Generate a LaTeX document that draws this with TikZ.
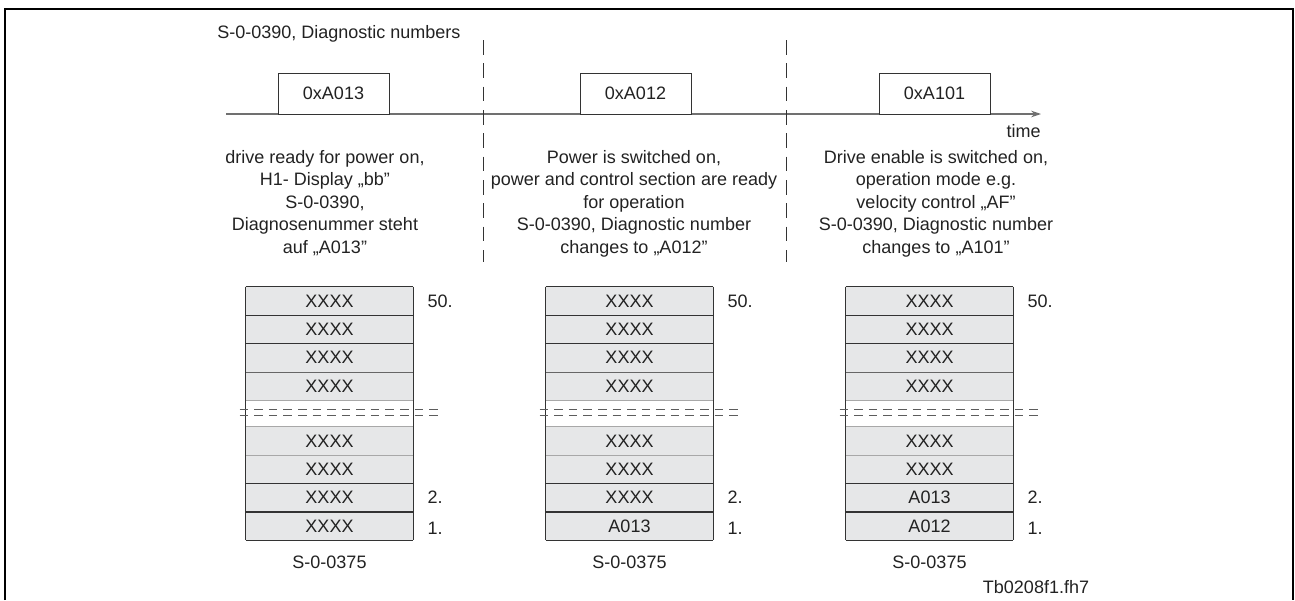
\documentclass[tikz,border=0pt]{standalone}
\usepackage{fontspec}
\setmainfont{Liberation Sans}
\usetikzlibrary{arrows.meta,calc}
\definecolor{cellgray}{HTML}{E6E7E8}
\definecolor{darkline}{HTML}{333333}
\definecolor{lightline}{HTML}{A8A8A8}
\definecolor{axisgray}{HTML}{707070}
\definecolor{textgray}{HTML}{222222}
\begin{document}
\begin{tikzpicture}[x=0.75pt,y=-0.75pt,
  every node/.style={inner sep=0pt,text=textgray,font=\fontsize{13.5}{16.9}\selectfont},
  frame/.style={line width=1.5pt,black},
  codebox/.style={draw=darkline,line width=0.7pt,fill=white,minimum width=83.25pt,minimum height=30.75pt},
  timeaxis/.style={draw=axisgray,line width=1pt,-{Stealth[length=7.5pt,width=5pt]}},
  phase/.style={draw=darkline,line width=0.55pt,dash pattern=on 11pt off 6.5pt},
  cell/.style={fill=cellgray,minimum width=125.25pt,minimum height=21.19pt},
  rowline/.style={draw=darkline,line width=0.8pt},
  softline/.style={draw=lightline,line width=0.75pt},
  gapdash/.style={draw=darkline!80,line width=0.6pt,dash pattern=on 6.4pt off 4.53pt},
  note/.style={align=center,anchor=north}
]
\useasboundingbox (0,0) rectangle (1295,600);

% outer frame, open at the bottom
\draw[frame] (5,600) -- (5,9) -- (1293,9) -- (1293,600);

% heading
\node[anchor=base west] (title) at (217,38) {S-0-0390, Diagnostic numbers};

% time axis with the diagnostic codes
\coordinate (t0) at (226,114);
\coordinate (t1) at (1041,114);
\draw[timeaxis] (t0) -- (t1);
\node[anchor=base east] (time) at (1041,137) {time};
\node[codebox] (c1) at (333.5,93.5) {0xA013};
\node[codebox] (c2) at (635.5,93.5) {0xA012};
\node[codebox] (c3) at (934.5,93.5) {0xA101};

% phase separators
\coordinate (p1a) at (483,40);
\coordinate (p1b) at (483,262);
\coordinate (p2a) at (786,40);
\coordinate (p2b) at (786,262);
\draw[phase] (p1a) -- (p1b);
\draw[phase] (p2a) -- (p2b);

% phase descriptions
\node[note] (n1) at (325,150) {drive ready for power on,\\H1- Display „bb”\\S-0-0390,\\Diagnosenummer steht\\auf „A013”};
\node[note] (n2) at (634,150) {Power is switched on,\\power and control section are ready\\for operation\\S-0-0390, Diagnostic number\\changes to „A012”};
\node[note] (n3) at (936,150) {Drive enable is switched on,\\operation mode e.g.\\velocity control „AF”\\S-0-0390, Diagnostic number\\changes to „A101”};

% diagnostic memory S-0-0375 in each phase
\foreach \t/\cx/\vb/\va in {a/329.5/XXXX/XXXX, b/629.5/XXXX/A013, c/929.5/A013/A012} {
  \foreach \k/\yy in {1/301.125, 2/329.375, 3/357.625, 4/385.875}
    \node[cell] (\t-u\k) at (\cx,\yy) {XXXX};
  \node[cell] (\t-l1) at (\cx,441.125) {XXXX};
  \node[cell] (\t-l2) at (\cx,469.375) {XXXX};
  \node[cell] (\t-l3) at (\cx,497.625) {\vb};
  \node[cell] (\t-l4) at (\cx,525.875) {\va};
  % row borders
  \draw[rowline] (\t-u1.north west) -- (\t-u1.north east);
  \draw[rowline] (\t-u1.south west) -- (\t-u1.south east);
  \draw[rowline] (\t-u2.south west) -- (\t-u2.south east);
  \draw[draw=darkline!75,line width=0.75pt] (\t-u3.south west) -- (\t-u3.south east);
  \draw[softline] (\t-u4.south west) -- (\t-u4.south east);
  \draw[softline] (\t-l1.north west) -- (\t-l1.north east);
  \draw[softline] (\t-l1.south west) -- (\t-l1.south east);
  \draw[rowline] (\t-l2.south west) -- (\t-l2.south east);
  \draw[rowline] (\t-l3.south west) -- (\t-l3.south east);
  \draw[rowline] (\t-l4.south west) -- (\t-l4.south east);
  \draw[rowline] (\t-u1.north west) -- (\t-l4.south west);
  \draw[rowline] (\t-u1.north east) -- (\t-l4.south east);
  % break marks in the gap
  \draw[gapdash] ($(\t-u4.south west)+(-6,9)$) -- ($(\t-u4.south east)+(25,9)$);
  \draw[gapdash] ($(\t-u4.south west)+(-6,15.5)$) -- ($(\t-u4.south east)+(25,15.5)$);
  % entry numbers and parameter name
  \node[anchor=west] (\t-n50) at ($(\t-u1.east)+(14,0)$) {50.};
  \node[anchor=west] (\t-n2) at ($(\t-l3.east)+(14,0)$) {2.};
  \node[anchor=west] (\t-n1) at ($(\t-l4.east)+(14,2)$) {1.};
  \node (\t-id) at (\cx,562) {S-0-0375};
}

\node (ref) at (1036,587) {Tb0208f1.fh7};
\end{tikzpicture}
\end{document}
